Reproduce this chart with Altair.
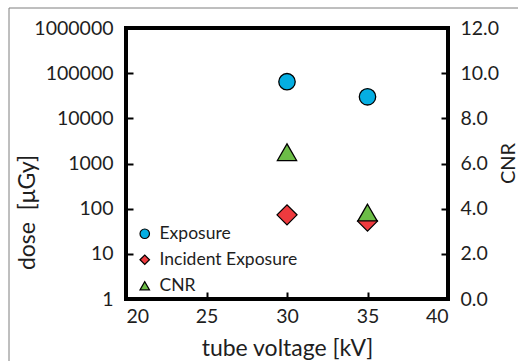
import altair as alt
import pandas as pd

FONT = "Lato"

# data
voltage = [30, 35]
exposure = [64600, 30000]
incident = [73, 53]
cnr = [6.5, 3.83]

series_names = ["Exposure", "Incident Exposure", "CNR"]
series_colors = ["#05AEE2", "#EE3A3E", "#6CBD47"]
series_shapes = ["circle", "diamond", "triangle-up"]

left_df = pd.DataFrame({
    "voltage": voltage + voltage,
    "dose": exposure + incident,
    "series": ["Exposure"] * 2 + ["Incident Exposure"] * 2,
    "size": [270, 270, 400, 400],
})
right_df = pd.DataFrame({
    "voltage": voltage,
    "cnr": cnr,
    "series": ["CNR"] * 2,
})

TXT = "#1e1e1e"

color = alt.Color(
    "series:N",
    scale=alt.Scale(domain=series_names, range=series_colors),
    legend=alt.Legend(
        title=None, orient="none", legendX=10, legendY=197,
        symbolSize=90, symbolStrokeColor="black", symbolStrokeWidth=1.2,
        labelFont=FONT, labelFontSize=17.5, labelColor=TXT,
        labelOffset=6, rowPadding=7, padding=0, symbolType="circle",
    ),
)
shape = alt.Shape(
    "series:N",
    scale=alt.Scale(domain=series_names, range=series_shapes),
    legend=None,
)

xaxis = alt.Axis(
    values=[20, 25, 30, 35, 40], title="tube voltage [kV]",
    offset=-7, tickSize=7, tickWidth=2, tickColor="black", domain=False,
    grid=False, labelFont=FONT, labelFontSize=19.5, labelColor=TXT,
    labelPadding=8, titleFont=FONT, titleFontSize=23, titleFontWeight="normal",
    titleColor=TXT, titleX=161, titleY=56, titleBaseline="middle",
    titleAlign="center", titleAnchor="middle",
)
xscale = alt.Scale(domain=[20, 40], nice=False, zero=False)

left = alt.Chart(left_df).mark_point(filled=True, stroke="black", strokeWidth=1.3, opacity=1).encode(
    x=alt.X("voltage:Q", scale=xscale, axis=xaxis),
    y=alt.Y(
        "dose:Q",
        scale=alt.Scale(type="log", domain=[1, 1000000], nice=False),
        axis=alt.Axis(
            values=[1, 10, 100, 1000, 10000, 100000, 1000000], format="d",
            title="dose\u00a0\u00a0[μGy]", offset=-7, tickSize=7, tickWidth=2, tickColor="black",
            domain=False, grid=False, labelFont=FONT, labelFontSize=19.5,
            labelColor=TXT, labelPadding=13, titleFont=FONT, titleFontSize=23,
            titleFontWeight="normal", titleColor=TXT, titleAngle=270,
            titleX=-106, titleY=184, titleBaseline="middle", titleAlign="center",
        ),
    ),
    color=color,
    shape=shape,
    size=alt.Size("size:Q", scale=None, legend=None),
)

right = alt.Chart(right_df).mark_point(filled=True, stroke="black", strokeWidth=1.3, opacity=1, size=370).encode(
    x=alt.X("voltage:Q", scale=xscale, axis=xaxis),
    y=alt.Y(
        "cnr:Q",
        scale=alt.Scale(domain=[0, 12], nice=False),
        axis=alt.Axis(
            orient="right", values=[0, 2, 4, 6, 8, 10, 12], format=".1f",
            title="CNR", offset=-7, tickSize=7, tickWidth=2, tickColor="black",
            domain=False, grid=False, labelFont=FONT, labelFontSize=19.5,
            labelColor=TXT, labelPadding=12, titleFont=FONT, titleFontSize=20,
            titleFontWeight="normal", titleColor=TXT, titleAngle=270,
            titleX=67, titleY=135, titleBaseline="middle", titleAlign="center",
        ),
    ),
    color=color,
    shape=shape,
)

one = pd.DataFrame({"a": [0]})
border_top = alt.Chart(one).mark_rule(color="#7f7f7f", strokeWidth=1).encode(
    x=alt.value(-117), x2=alt.value(400), y=alt.value(-20)
)
border_left = alt.Chart(one).mark_rule(color="#7f7f7f", strokeWidth=1).encode(
    x=alt.value(-117), y=alt.value(-20), y2=alt.value(340)
)

chart = alt.layer(left, right, border_top, border_left).resolve_scale(
    y="independent"
).properties(
    width=322, height=271,
    autosize=alt.AutoSizeParams(type="none"),
    padding={"left": 126, "top": 28, "right": 70, "bottom": 62},
    background="white",
).configure_view(stroke="black", strokeWidth=4)

chart.save("out.html", embed_options={"renderer": "svg", "actions": False})
